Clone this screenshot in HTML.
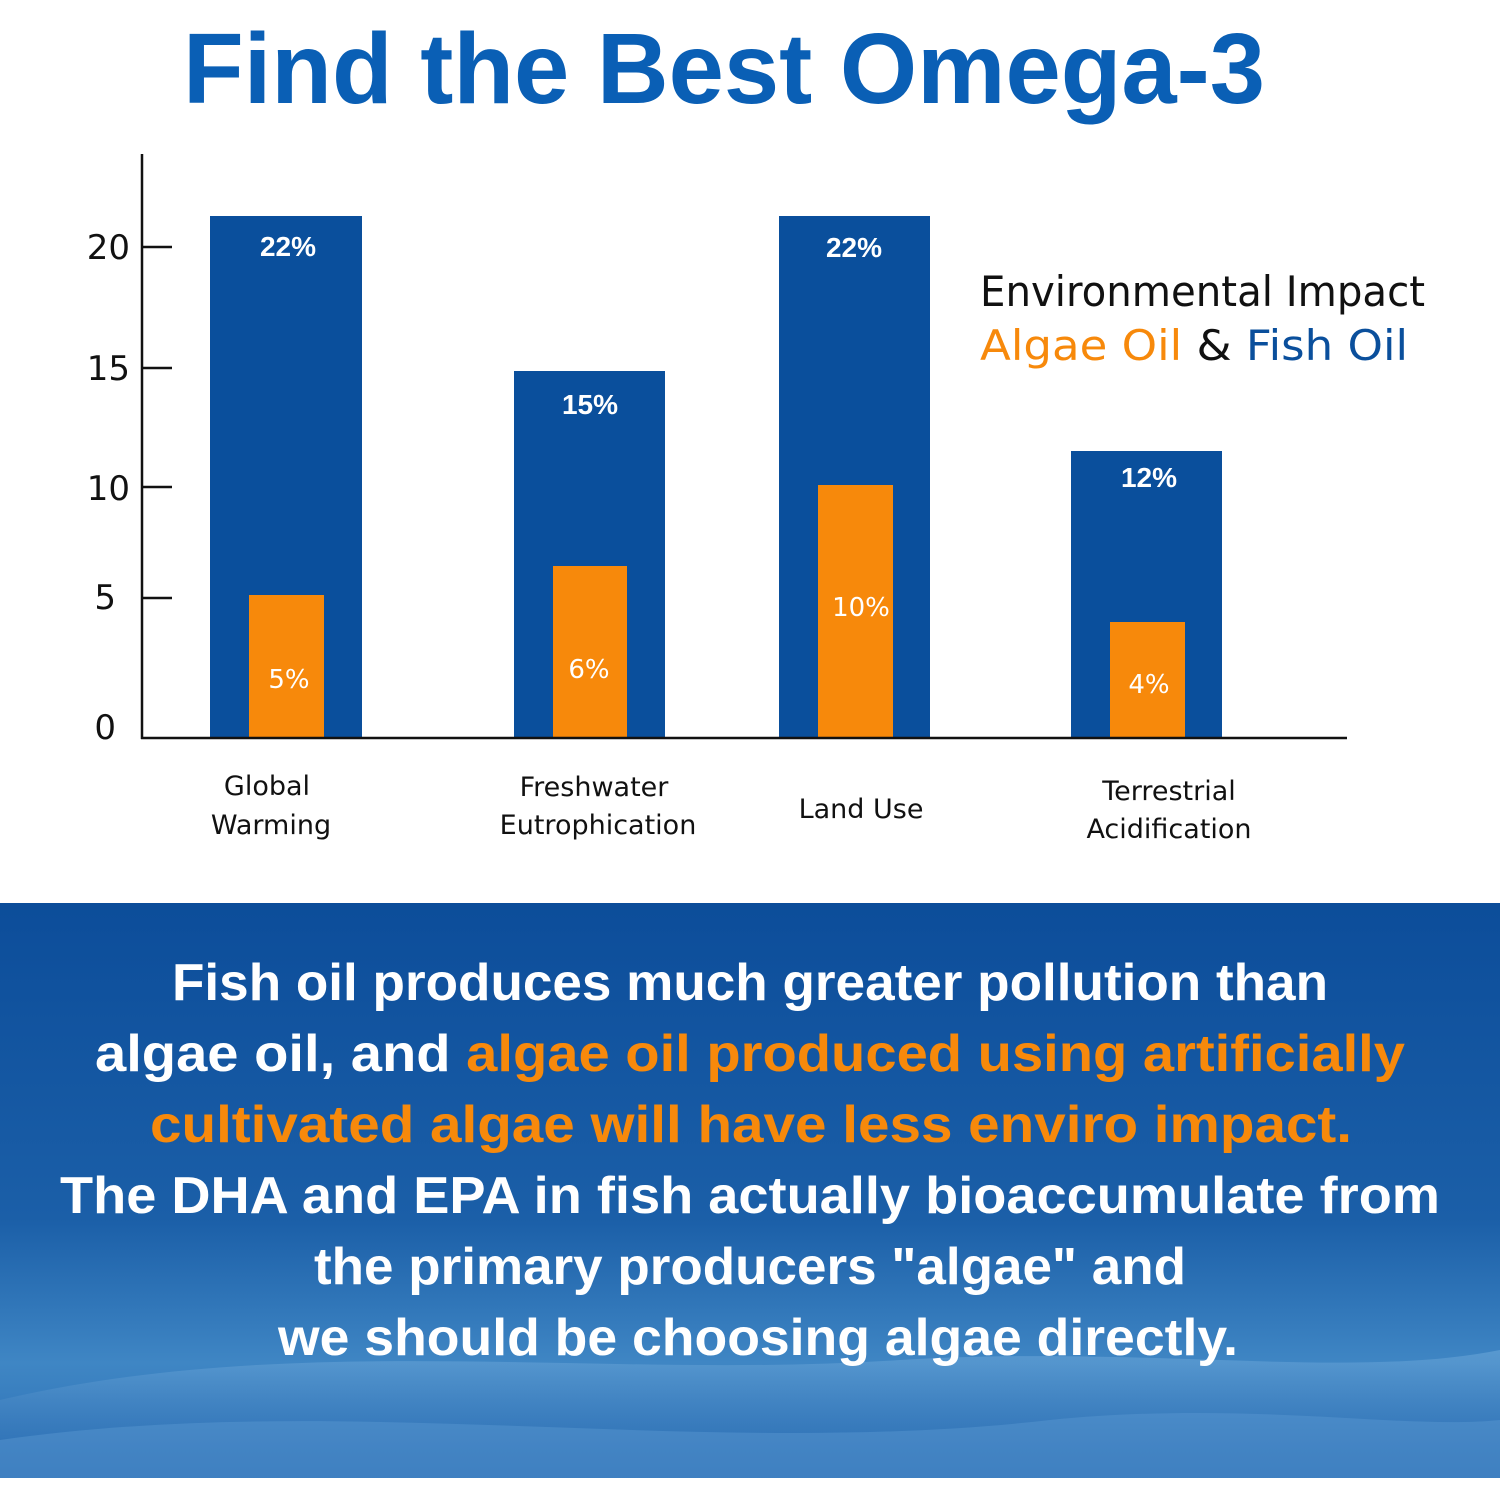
<!DOCTYPE html>
<html><head><meta charset="utf-8"><style>
html,body{margin:0;padding:0;background:#fff;}
body{width:1500px;height:1500px;overflow:hidden;position:relative;font-family:"Liberation Sans","DejaVu Sans",sans-serif;}
</style></head><body>
<svg width="1500" height="1500" viewBox="0 0 1500 1500" xmlns="http://www.w3.org/2000/svg" style="position:absolute;left:0;top:0">
<defs>
<linearGradient id="bg" x1="0" y1="0" x2="0" y2="1">
<stop offset="0" stop-color="#0c4d9a"/>
<stop offset="0.55" stop-color="#1b5fa8"/>
<stop offset="0.8" stop-color="#3f86c4"/>
<stop offset="1" stop-color="#2a6db3"/>
</linearGradient>
<linearGradient id="wv" x1="0" y1="0" x2="0" y2="1">
<stop offset="0" stop-color="#7fb6e3" stop-opacity="0.7"/>
<stop offset="1" stop-color="#1d5ea8" stop-opacity="0.2"/>
</linearGradient>
</defs>
<text x="724" y="103" text-anchor="middle" font-family="Liberation Sans" font-weight="bold" font-size="100" fill="#0a5fb5" textLength="1082" lengthAdjust="spacingAndGlyphs">Find the Best Omega-3</text>

<g fill="#0a4f9c">
<rect x="210" y="216" width="152" height="522"/>
<rect x="514" y="371" width="151" height="367"/>
<rect x="779" y="216" width="151" height="522"/>
<rect x="1071" y="451" width="151" height="287"/>
</g>
<g fill="#f7890b">
<rect x="249" y="595" width="75" height="143"/>
<rect x="553" y="566" width="74" height="172"/>
<rect x="818" y="485" width="75" height="253"/>
<rect x="1110" y="622" width="75" height="116"/>
</g>
<g font-family="Liberation Sans" font-weight="bold" font-size="28" fill="#fff" text-anchor="middle">
<text x="288" y="256">22%</text>
<text x="590" y="414">15%</text>
<text x="854" y="257">22%</text>
<text x="1149" y="487">12%</text>
</g>
<g font-family="DejaVu Sans" font-size="26" fill="#fff" text-anchor="middle">
<text x="289" y="688">5%</text>
<text x="589" y="678">6%</text>
<text x="861" y="616">10%</text>
<text x="1149" y="693">4%</text>
</g>

<g stroke="#111" stroke-width="2.5">
<line x1="142" y1="154" x2="142" y2="739"/>
<line x1="141" y1="738" x2="1347" y2="738"/>
<line x1="142" y1="247" x2="172" y2="247"/>
<line x1="142" y1="368" x2="172" y2="368"/>
<line x1="142" y1="487" x2="172" y2="487"/>
<line x1="142" y1="598" x2="172" y2="598"/>
</g>
<g font-family="DejaVu Sans" font-size="34" fill="#111" text-anchor="end">
<text x="130" y="259">20</text>
<text x="130" y="380">15</text>
<text x="130" y="500">10</text>
<text x="116" y="609">5</text>
<text x="116" y="739">0</text>
</g>

<g font-family="DejaVu Sans" font-size="27" fill="#111" text-anchor="middle">
<text x="267" y="795">Global</text>
<text x="271" y="834">Warming</text>
<text x="594" y="796">Freshwater</text>
<text x="598" y="834">Eutrophication</text>
<text x="861" y="818">Land Use</text>
<text x="1169" y="800">Terrestrial</text>
<text x="1169" y="838">Acidification</text>
</g>

<g font-family="DejaVu Sans" font-size="42">
<text x="980" y="306" fill="#111" textLength="445" lengthAdjust="spacingAndGlyphs">Environmental Impact</text>
<text x="980" y="360" textLength="428" lengthAdjust="spacingAndGlyphs"><tspan fill="#f7890b">Algae Oil</tspan><tspan fill="#111"> &amp; </tspan><tspan fill="#0a4f9c">Fish Oil</tspan></text>
</g>

<rect x="0" y="903" width="1500" height="575" fill="url(#bg)"/>
<path d="M0 1400 C300 1330 600 1380 900 1360 C1150 1345 1350 1380 1500 1350 L1500 1478 L0 1478 Z" fill="url(#wv)" opacity="0.6"/>
<path d="M0 1440 C350 1390 700 1460 1050 1420 C1250 1400 1400 1430 1500 1420 L1500 1478 L0 1478 Z" fill="#5b9ad2" opacity="0.45"/>

<g font-family="Liberation Sans" font-weight="bold" font-size="52" text-anchor="middle" fill="#fff" lengthAdjust="spacingAndGlyphs">
<text x="750" y="1000" textLength="1156" lengthAdjust="spacingAndGlyphs">Fish oil produces much greater pollution than</text>
<text x="750" y="1071" textLength="1310" lengthAdjust="spacingAndGlyphs"><tspan>algae oil, and </tspan><tspan fill="#f7890b">algae oil produced using artificially</tspan></text>
<text x="751" y="1142" fill="#f7890b" textLength="1202" lengthAdjust="spacingAndGlyphs">cultivated algae will have less enviro impact.</text>
<text x="750" y="1213" textLength="1380" lengthAdjust="spacingAndGlyphs">The DHA and EPA in fish actually bioaccumulate from</text>
<text x="750" y="1284" textLength="872" lengthAdjust="spacingAndGlyphs">the primary producers "algae" and</text>
<text x="758" y="1355" textLength="960" lengthAdjust="spacingAndGlyphs">we should be choosing algae directly.</text>
</g>
</svg>
</body></html>
